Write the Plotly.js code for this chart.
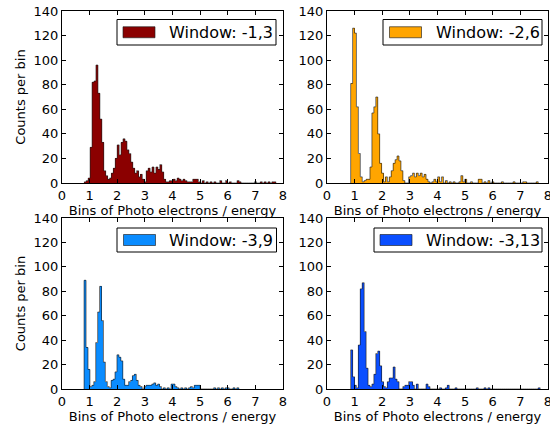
<!DOCTYPE html>
<html>
<head>
<meta charset="utf-8">
<script src="https://cdn.plot.ly/plotly-3.0.1.min.js"></script>
<style>html,body{margin:0;padding:0;background:#fff}#chart{width:550px;height:425px}</style>
</head>
<body>
<div id="chart"></div>
<script>
// ---- data ----
const seriesNames = ['Window: -1,3', 'Window: -2,6', 'Window: -3,9', 'Window: -3,13'];
const binWidth = 0.07;
const binStarts = [0.81, 0.856, 0.80, 0.856];
const xTickLabels = ['0','1','2','3','4','5','6','7','8'];
const yTickValues = [0, 20, 40, 60, 80, 100, 120, 140];

const countsWin13 = [1,2,4,29,82,83,96,73,52,33,10,6,3,4,8,12,20,31,23,33,36,34,27,24,17,12,8,10,5,7,3,1,10,12,9,13,8,13,11,15,9,3,1,1,2,2,3,2,4,3,2,3,2,1,1,1,3,3,3,1,0,2,0,1,0,1,0,1,0,0,2,0,0,2,0,1,0,0,0,2,1,0,0,0,0,0,0,0,1,0,0,1,0,1,0,1,0,1,1];
const countsWin26 = [81,126,122,62,24,5,1,2,3,3,13,57,62,70,40,16,8,1,5,1,5,10,16,19,22,18,10,2,0,0,5,6,8,5,8,6,8,5,7,3,1,0,1,3,1,5,1,5,0,2,0,1,0,1,0,0,1,6,1,3,0,0,1,0,0,0,3,3,0,1,0,2,0,1,0,0,0,0,1,0,0,0,0,0,1,0,0,0,0,1,1,0,0,0,0,0,1];
const countsWin39 = [89,34,16,2,3,6,38,63,84,56,22,6,2,1,7,8,14,28,26,23,8,3,3,6,7,11,12,7,3,2,0,2,3,3,3,4,5,3,4,2,0,1,0,1,0,4,4,2,1,0,1,0,1,0,1,2,1,3,3,3,0,0,0,0,0,0,0,1,0,1,0,1,0,1,1,0,0,1,0,1];
const countsWin313 = [32,10,3,1,36,82,87,47,17,3,2,4,12,29,31,19,6,2,1,6,9,9,18,8,6,0,0,2,3,3,6,6,3,0,4,0,0,0,0,4,2,0,0,0,0,0,1,0,0,1,3,0,0,0,1,0,0,0,0,0,0,0,0,0,0,1,0,0,0,1,0,1,0,0,0,0,0,0,0,0,0,0,0,0,0,0,0,0,0,0,0,0,0,0,0,0,0,1];
const allCounts = [countsWin13, countsWin26, countsWin39, countsWin313];

// ---- style ----
const fillColors = ['#8B0000', '#FFA500', '#0A8CFF', '#0A4EFF'];
const font = 'DejaVu Sans, Liberation Sans, Arial, sans-serif';

const traces = [];
allCounts.forEach((counts, i) => {
  const ax = i === 0 ? '' : String(i + 1);
  const start = binStarts[i];
  const centers = counts.map((c, k) => start + binWidth * (k + 0.5));
  traces.push({
    type: 'bar', x: centers, y: counts, width: binWidth, name: seriesNames[i],
    marker: {color: fillColors[i], line: {width: 0}},
    xaxis: 'x' + ax, yaxis: 'y' + ax, showlegend: false, hoverinfo: 'x+y'
  });
  // step outline (stepfilled histogram edge)
  const sx = [start], sy = [0];
  counts.forEach((c, k) => { sx.push(start + binWidth * k); sy.push(c); });
  sx.push(start + binWidth * counts.length); sy.push(0);
  traces.push({
    type: 'scatter', mode: 'lines', x: sx, y: sy,
    line: {shape: 'hv', color: 'rgba(30,30,30,0.8)', width: 0.8},
    xaxis: 'x' + ax, yaxis: 'y' + ax, showlegend: false, hoverinfo: 'skip'
  });
});

const W = 550, H = 425;
const mL = 62, mR = 2, mT = 11, mB = 36;
const iw = W - mL - mR, ih = H - mT - mB;
const xDomL = [0, (283 - mL) / iw], xDomR = [(327 - mL) / iw, 1];
const yDomT = [(H - mB - 183) / ih, 1], yDomB = [0, (H - mB - 218) / ih];
const fs = 13;

function xAxis(dom, anchor) {
  return {
    domain: dom, anchor: anchor, range: [0, 8], tickvals: [0,1,2,3,4,5,6,7,8], ticktext: xTickLabels,
    ticks: 'inside', ticklen: 4, tickwidth: 1, tickcolor: '#000', mirror: 'ticks',
    showline: true, linecolor: '#000', linewidth: 1, showgrid: false, zeroline: false,
    ticklabeloverflow: 'allow',
    tickfont: {family: font, size: fs, color: '#000'},
    title: {text: 'Bins of Photo electrons / energy', font: {family: font, size: fs, color: '#000'}, standoff: 3}
  };
}
function yAxis(dom, anchor, withTitle) {
  const a = {
    domain: dom, anchor: anchor, range: [0, 140], tickvals: yTickValues,
    ticks: 'inside', ticklen: 4, tickwidth: 1, tickcolor: '#000', mirror: 'ticks',
    showline: true, linecolor: '#000', linewidth: 1, showgrid: false, zeroline: false,
    ticklabeloverflow: 'allow',
    tickfont: {family: font, size: fs, color: '#000'}
  };
  if (withTitle) a.title = {text: 'Counts per bin', font: {family: font, size: fs, color: '#000'}, standoff: 5};
  return a;
}

// legend boxes (pixel positions in the figure) drawn as shapes + text annotations
const legendBoxes = [
  {x0: 117, x1: 276, y0: 19.5, y1: 45, px0: 123, px1: 155, tx: 167},
  {x0: 383, x1: 542, y0: 19.5, y1: 45, px0: 389.5, px1: 421.5, tx: 434},
  {x0: 117, x1: 276.5, y0: 228, y1: 252, px0: 123.5, px1: 155.5, tx: 167},
  {x0: 374, x1: 542, y0: 228, y1: 252, px0: 380, px1: 412, tx: 424}
];
// convert figure pixels to paper coordinates (paper = plotting area inside margins)
const px = v => (v - mL) / iw, py = v => 1 - (v - mT) / ih;
const shapes = [], annotations = [];
legendBoxes.forEach((b, i) => {
  shapes.push({type: 'rect', xref: 'paper', yref: 'paper', x0: px(b.x0), x1: px(b.x1), y0: py(b.y1), y1: py(b.y0),
    line: {color: '#000', width: 1}, fillcolor: '#fff', layer: 'above'});
  const cy = (b.y0 + b.y1) / 2;
  shapes.push({type: 'rect', xref: 'paper', yref: 'paper', x0: px(b.px0), x1: px(b.px1), y0: py(cy + 5.5), y1: py(cy - 5.5),
    line: {color: 'rgba(30,30,30,0.8)', width: 0.8}, fillcolor: fillColors[i], layer: 'above'});
  annotations.push({xref: 'paper', yref: 'paper', x: px(b.tx), y: py(cy), xanchor: 'left', yanchor: 'middle',
    text: seriesNames[i], showarrow: false, font: {family: font, size: 16, color: '#000'}});
});

const layout = {
  width: W, height: H, margin: {l: mL, r: mR, t: mT, b: mB}, paper_bgcolor: '#fff', plot_bgcolor: '#fff',
  font: {family: font, size: fs, color: '#000'}, showlegend: false, bargap: 0,
  xaxis: xAxis(xDomL, 'y'), yaxis: yAxis(yDomT, 'x', true),
  xaxis2: xAxis(xDomR, 'y2'), yaxis2: yAxis(yDomT, 'x2', false),
  xaxis3: xAxis(xDomL, 'y3'), yaxis3: yAxis(yDomB, 'x3', true),
  xaxis4: xAxis(xDomR, 'y4'), yaxis4: yAxis(yDomB, 'x4', false),
  shapes: shapes, annotations: annotations
};
Plotly.newPlot('chart', traces, layout, {staticPlot: true, displayModeBar: false});
</script>
</body>
</html>
